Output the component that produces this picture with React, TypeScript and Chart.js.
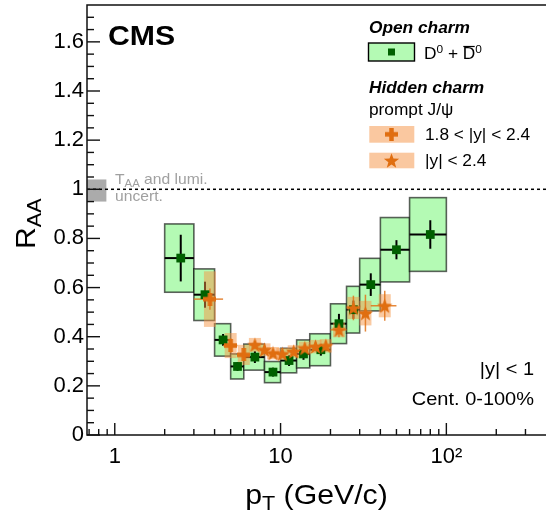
import { useEffect, useRef } from "react";
import { Chart, registerables } from "chart.js";

Chart.register(...registerables);

const FONT = '"Liberation Sans", Arial, Helvetica, sans-serif';
const SX = 1.08;

// ---- D0 + D0bar (open charm), |y|<1 ----
const D0_LOW = [2, 3, 4, 5, 6, 8, 10, 12.5, 15, 20, 25, 30, 40, 60];
const D0_HIGH = [3, 4, 5, 6, 8, 10, 12.5, 15, 20, 25, 30, 40, 60, 100];
const D0_PT = [2.5, 3.5, 4.5, 5.5, 7, 9, 11.25, 13.75, 17.5, 22.5, 27.5, 35, 50, 80];
const D0_RAA = [0.72, 0.571, 0.387, 0.279, 0.317, 0.256, 0.303, 0.33, 0.347, 0.453, 0.51, 0.612, 0.754, 0.816];
const D0_STAT = [0.095, 0.053, 0.024, 0.018, 0.024, 0.018, 0.022, 0.024, 0.024, 0.04, 0.037, 0.046, 0.039, 0.058];
const D0_SYST = [0.139, 0.105, 0.066, 0.051, 0.053, 0.043, 0.05, 0.057, 0.065, 0.081, 0.095, 0.107, 0.131, 0.15];

// ---- prompt J/psi, 1.8<|y|<2.4 ----
const JF_LOW = [3, 4.5, 5.5];
const JF_HIGH = [4.5, 5.5, 6.5];
const JF_PT = [3.75, 5, 6];
const JF_RAA = [0.553, 0.364, 0.326];
const JF_STAT = [0.043, 0.03, 0.025];
const JF_SYST = [0.113, 0.051, 0.041];

// ---- prompt J/psi, |y|<2.4 ----
const JM_LOW = [6.5, 7.5, 8.5, 9.5, 11, 13, 15, 17.5, 20, 25, 30, 35];
const JM_HIGH = [7.5, 8.5, 9.5, 11, 13, 15, 17.5, 20, 25, 30, 35, 50];
const JM_PT = [7, 8, 9, 10.25, 12, 14, 16.25, 18.75, 22.5, 27.5, 32.5, 42.5];
const JM_RAA = [0.367, 0.347, 0.333, 0.33, 0.34, 0.354, 0.36, 0.363, 0.428, 0.517, 0.496, 0.526];
const JM_STAT = [0.015, 0.015, 0.015, 0.015, 0.015, 0.018, 0.02, 0.022, 0.03, 0.05, 0.075, 0.061];
const JM_SYST = [0.028, 0.026, 0.025, 0.024, 0.025, 0.026, 0.027, 0.027, 0.03, 0.045, 0.05, 0.047];

// ---- global (T_AA and lumi) uncertainty ----
const GLOBAL_X = [0.68, 0.89];
const GLOBAL_Y = [0.95, 1.04];
const REF_LINE = 1;

// ---- axes ----
const X_MIN = 0.68;
const X_MAX = 399;
const Y_MIN = 0;
const Y_MAX = 1.75;
const X_TICKS = [1, 10, 100];
const X_TICK_LABELS = ["1", "10", "10\u00B2"];
const X_MINOR = [0.7, 0.8, 0.9, 2, 3, 4, 5, 6, 7, 8, 9, 20, 30, 40, 50, 60, 70, 80, 90, 200, 300];
const Y_TICKS = [0, 0.2, 0.4, 0.6, 0.8, 1, 1.2, 1.4, 1.6];
const Y_TICK_LABELS = ["0", "0.2", "0.4", "0.6", "0.8", "1", "1.2", "1.4", "1.6"];
const Y_MINOR = [0.05, 0.1, 0.15, 0.25, 0.3, 0.35, 0.45, 0.5, 0.55, 0.65, 0.7, 0.75, 0.85, 0.9, 0.95, 1.05, 1.1, 1.15, 1.25, 1.3, 1.35, 1.45, 1.5, 1.55, 1.65, 1.7];

const GREEN_FILL = "rgb(180,250,180)";
const GREEN_EDGE = "rgba(0,0,0,0.62)";
const GREEN_MARK = "#006000";
const ORANGE = "rgb(224,110,16)";
const ORANGE_BOX = "rgba(245,150,70,0.5)";
const ORANGE_LEG = "rgb(250,200,160)";
const ORANGE_BAR = "rgba(225,115,25,0.85)";

type Part = { t: string; size: number; weight?: string; style?: string; dy?: number; over?: boolean };

function fontOf(p: Part) {
  return `${p.style || "normal"} ${p.weight || "normal"} ${p.size}px ${FONT}`;
}

function drawRich(ctx: CanvasRenderingContext2D, parts: Part[], x: number, y: number, align: string, color: string) {
  let w = 0;
  for (const p of parts) {
    ctx.font = fontOf(p);
    w += ctx.measureText(p.t).width * SX;
  }
  let cx = align === "left" ? x : align === "center" ? x - w / 2 : x - w;
  ctx.save();
  ctx.fillStyle = color;
  ctx.strokeStyle = color;
  ctx.textAlign = "left";
  ctx.textBaseline = "alphabetic";
  for (const p of parts) {
    ctx.font = fontOf(p);
    const pw = ctx.measureText(p.t).width;
    ctx.save();
    ctx.translate(cx, y + (p.dy || 0));
    ctx.scale(SX, 1);
    ctx.fillText(p.t, 0, 0);
    if (p.over) {
      ctx.lineWidth = 1.2;
      ctx.beginPath();
      ctx.moveTo(0.5, -p.size * 0.8);
      ctx.lineTo(pw - 0.5, -p.size * 0.8);
      ctx.stroke();
    }
    ctx.restore();
    cx += pw * SX;
  }
  ctx.restore();
}

function makeStar(): HTMLCanvasElement {
  const c = document.createElement("canvas");
  c.width = 17;
  c.height = 17;
  const g = c.getContext("2d")!;
  g.fillStyle = ORANGE;
  g.beginPath();
  for (let i = 0; i < 10; i++) {
    const r = i % 2 === 0 ? 8 : 3.3;
    const a = -Math.PI / 2 + (i * Math.PI) / 5;
    const px = 8.5 + r * Math.cos(a);
    const py = 9.2 + r * Math.sin(a);
    if (i === 0) g.moveTo(px, py);
    else g.lineTo(px, py);
  }
  g.closePath();
  g.fill();
  return c;
}

function makeCross(): HTMLCanvasElement {
  const c = document.createElement("canvas");
  c.width = 13;
  c.height = 13;
  const g = c.getContext("2d")!;
  g.fillStyle = ORANGE;
  g.fillRect(0, 4.25, 13, 4.5);
  g.fillRect(4.25, 0, 4.5, 13);
  return c;
}

function line(ctx: CanvasRenderingContext2D, x1: number, y1: number, x2: number, y2: number) {
  ctx.beginPath();
  ctx.moveTo(x1, y1);
  ctx.lineTo(x2, y2);
  ctx.stroke();
}

export default function App() {
  const ref = useRef<HTMLCanvasElement | null>(null);

  useEffect(() => {
    if (!ref.current) return;
    const star = makeStar();
    const cross = makeCross();

    const decor = {
      id: "cmsDecor",
      beforeDatasetsDraw(chart: any) {
        const { ctx, chartArea: a } = chart;
        const xs = chart.scales.x;
        const ys = chart.scales.y;
        const px = (v: number) => xs.getPixelForValue(v);
        const py = (v: number) => ys.getPixelForValue(v);
        ctx.save();
        // global uncertainty box
        ctx.fillStyle = "#ababab";
        ctx.fillRect(a.left, py(GLOBAL_Y[1]), px(GLOBAL_X[1]) - a.left, py(GLOBAL_Y[0]) - py(GLOBAL_Y[1]));
        // reference line
        ctx.strokeStyle = "#000";
        ctx.lineWidth = 1.5;
        ctx.setLineDash([3, 3]);
        line(ctx, a.left, py(REF_LINE), a.right, py(REF_LINE));
        ctx.setLineDash([]);
        // D0 systematic boxes
        D0_PT.forEach((_, i) => {
          const x1 = px(D0_LOW[i]);
          const x2 = px(D0_HIGH[i]);
          const y1 = py(D0_RAA[i] + D0_SYST[i]);
          const y2 = py(D0_RAA[i] - D0_SYST[i]);
          ctx.fillStyle = GREEN_FILL;
          ctx.fillRect(x1, y1, x2 - x1, y2 - y1);
          ctx.strokeStyle = GREEN_EDGE;
          ctx.lineWidth = 1.6;
          ctx.strokeRect(x1, y1, x2 - x1, y2 - y1);
        });
        // D0 bin lines and stat bars
        ctx.strokeStyle = "#000";
        ctx.lineWidth = 2;
        D0_PT.forEach((p, i) => {
          line(ctx, px(D0_LOW[i]), py(D0_RAA[i]), px(D0_HIGH[i]), py(D0_RAA[i]));
          line(ctx, px(p), py(D0_RAA[i] + D0_STAT[i]), px(p), py(D0_RAA[i] - D0_STAT[i]));
        });
        // J/psi systematic boxes
        const jbox = (pt: number[], v: number[], s: number[]) => {
          ctx.fillStyle = ORANGE_BOX;
          pt.forEach((p, i) => {
            const c = px(p);
            const y1 = py(v[i] + s[i]);
            const y2 = py(v[i] - s[i]);
            ctx.fillRect(c - 6, y1, 12, y2 - y1);
          });
        };
        jbox(JF_PT, JF_RAA, JF_SYST);
        jbox(JM_PT, JM_RAA, JM_SYST);
        // J/psi stat bars
        const jbar = (pt: number[], lo: number[], hi: number[], v: number[], s: number[]) => {
          ctx.strokeStyle = ORANGE_BAR;
          ctx.lineWidth = 1.5;
          pt.forEach((p, i) => {
            line(ctx, px(lo[i]), py(v[i]), px(hi[i]), py(v[i]));
            line(ctx, px(p), py(v[i] + s[i]), px(p), py(v[i] - s[i]));
          });
        };
        jbar(JF_PT, JF_LOW, JF_HIGH, JF_RAA, JF_STAT);
        jbar(JM_PT, JM_LOW, JM_HIGH, JM_RAA, JM_STAT);
        ctx.restore();
      },
      afterDraw(chart: any) {
        const { ctx, chartArea: a } = chart;
        const xs = chart.scales.x;
        const ys = chart.scales.y;
        ctx.save();
        // frame
        ctx.strokeStyle = "#111";
        ctx.lineWidth = 1.5;
        ctx.beginPath();
        ctx.moveTo(a.right + 2, a.top);
        ctx.lineTo(a.left, a.top);
        ctx.lineTo(a.left, a.bottom);
        ctx.lineTo(a.right + 2, a.bottom);
        ctx.stroke();
        // ticks
        ctx.lineWidth = 1.4;
        Y_TICKS.forEach((v) => {
          const y = ys.getPixelForValue(v);
          line(ctx, a.left, y, a.left + 13, y);
        });
        Y_MINOR.forEach((v) => {
          const y = ys.getPixelForValue(v);
          line(ctx, a.left, y, a.left + 7, y);
        });
        X_TICKS.forEach((v) => {
          const x = xs.getPixelForValue(v);
          line(ctx, x, a.bottom, x, a.bottom - 12);
        });
        X_MINOR.forEach((v) => {
          const x = xs.getPixelForValue(v);
          line(ctx, x, a.bottom, x, a.bottom - 6);
        });
        // axis titles
        drawRich(ctx, [
          { t: "p", size: 28 },
          { t: "T", size: 20, dy: 6 },
          { t: " (GeV/c)", size: 28 },
        ], (a.left + a.right) / 2, 504, "center", "#000");
        ctx.save();
        ctx.translate(35, 249);
        ctx.rotate(-Math.PI / 2);
        drawRich(ctx, [
          { t: "R", size: 28 },
          { t: "AA", size: 20, dy: 6 },
        ], 0, 0, "left", "#000");
        ctx.restore();
        // CMS label
        drawRich(ctx, [{ t: "CMS", size: 28, weight: "bold" }], 108, 45, "left", "#000");
        // global uncertainty label
        drawRich(ctx, [
          { t: "T", size: 14.5 },
          { t: "AA", size: 10.5, dy: 3 },
          { t: " and lumi.", size: 14.5 },
        ], 115, 184, "left", "#a0a0a0");
        drawRich(ctx, [{ t: "uncert.", size: 14.5 }], 115, 200.5, "left", "#a0a0a0");
        // kinematic labels
        drawRich(ctx, [{ t: "|y| < 1", size: 18.5 }], 534, 375, "right", "#000");
        drawRich(ctx, [{ t: "Cent. 0-100%", size: 18.5 }], 534, 405, "right", "#000");
        // legend
        drawRich(ctx, [{ t: "Open charm", size: 16, weight: "bold", style: "italic" }], 369, 33, "left", "#000");
        ctx.fillStyle = GREEN_FILL;
        ctx.fillRect(368.5, 43, 46, 18);
        ctx.strokeStyle = "#000";
        ctx.lineWidth = 1.4;
        ctx.strokeRect(368.5, 43, 46, 18);
        ctx.fillStyle = GREEN_MARK;
        ctx.fillRect(388, 48.5, 7, 7);
        drawRich(ctx, [
          { t: "D", size: 16 },
          { t: "0", size: 11, dy: -6.5 },
          { t: " + ", size: 16 },
          { t: "D", size: 16, over: true },
          { t: "0", size: 11, dy: -6.5 },
        ], 424, 59.3, "left", "#000");
        drawRich(ctx, [{ t: "Hidden charm", size: 16, weight: "bold", style: "italic" }], 369, 93, "left", "#000");
        drawRich(ctx, [{ t: "prompt J/\u03C8", size: 16 }], 369, 114.5, "left", "#000");
        ctx.fillStyle = ORANGE_LEG;
        ctx.fillRect(369.3, 126, 45, 16.7);
        ctx.drawImage(cross, 391.5 - cross.width / 2, 134.3 - cross.height / 2);
        drawRich(ctx, [{ t: "1.8 < |y| < 2.4", size: 16 }], 425, 139.5, "left", "#000");
        ctx.fillStyle = ORANGE_LEG;
        ctx.fillRect(369.3, 152.7, 45, 15.6);
        ctx.drawImage(star, 391.5 - star.width / 2, 160.5 - star.height / 2);
        drawRich(ctx, [{ t: "|y| < 2.4", size: 16 }], 425, 166, "left", "#000");
        ctx.restore();
      },
    };

    const chart = new Chart(ref.current, {
      type: "scatter",
      data: {
        datasets: [
          {
            label: "D0 + D0bar",
            data: D0_PT.map((p, i) => ({ x: p, y: D0_RAA[i] })),
            pointStyle: "rect",
            pointRadius: 6.2,
            pointBackgroundColor: GREEN_MARK,
            pointBorderWidth: 0,
            order: 3,
          },
          {
            label: "prompt J/psi 1.8<|y|<2.4",
            data: JF_PT.map((p, i) => ({ x: p, y: JF_RAA[i] })),
            pointStyle: cross as any,
            pointRadius: 7,
            order: 1,
          },
          {
            label: "prompt J/psi |y|<2.4",
            data: JM_PT.map((p, i) => ({ x: p, y: JM_RAA[i] })),
            pointStyle: star as any,
            pointRadius: 7,
            order: 2,
          },
        ],
      },
      options: {
        animation: false,
        responsive: true,
        maintainAspectRatio: false,
        events: [],
        layout: { autoPadding: false, padding: { left: 0, right: 0, top: 5, bottom: 0 } },
        plugins: { legend: { display: false }, tooltip: { enabled: false } },
        scales: {
          x: {
            type: "logarithmic",
            min: X_MIN,
            max: X_MAX,
            grid: { display: false, drawTicks: false },
            border: { display: false },
            afterBuildTicks: (s: any) => {
              s.ticks = X_TICKS.map((v) => ({ value: v }));
            },
            afterFit: (s: any) => {
              s.height = 79;
              s.paddingLeft = 0;
              s.paddingRight = 0;
            },
            ticks: {
              autoSkip: false,
              maxRotation: 0,
              minRotation: 0,
              padding: 9,
              color: "#000",
              font: { family: FONT, size: 22 },
              callback: (_v: any, i: number) => X_TICK_LABELS[i],
            },
          },
          y: {
            type: "linear",
            min: Y_MIN,
            max: Y_MAX,
            grid: { display: false, drawTicks: false },
            border: { display: false },
            afterBuildTicks: (s: any) => {
              s.ticks = Y_TICKS.map((v) => ({ value: v }));
            },
            afterFit: (s: any) => {
              s.width = 87;
              s.paddingTop = 0;
              s.paddingBottom = 0;
            },
            ticks: {
              padding: 3,
              color: "#000",
              font: { family: FONT, size: 22 },
              callback: (_v: any, i: number) => Y_TICK_LABELS[i],
            },
          },
        },
      } as any,
      plugins: [decor],
    });
    return () => chart.destroy();
  }, []);

  return (
    <div style={{ position: "absolute", left: 0, top: 0, width: 546, height: 514, background: "#fff" }}>
      <canvas ref={ref} />
    </div>
  );
}
